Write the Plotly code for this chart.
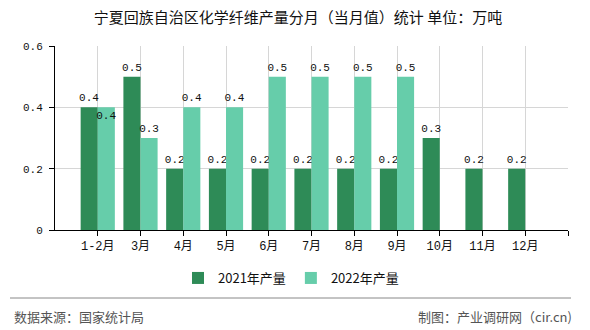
import plotly.graph_objects as go

categories = ["1-2月", "3月", "4月", "5月", "6月", "7月", "8月", "9月", "10月", "11月", "12月"]
values_2021 = [0.4, 0.5, 0.2, 0.2, 0.2, 0.2, 0.2, 0.2, 0.3, 0.2, 0.2]
values_2022 = [0.4, 0.3, 0.4, 0.4, 0.5, 0.5, 0.5, 0.5, None, None, None]
series_names = ["2021年产量", "2022年产量"]
y_ticks = [0, 0.2, 0.4, 0.6]
y_tick_labels = ["0", "0.2", "0.4", "0.6"]

W, H = 590, 330
L, R, T, B = 55, 22, 46, 100
PW = W - L - R
PH = H - T - B

def px_x(px):
    return (px - L) / PW

def px_y(py):
    return (H - B - py) / PH

num_font = "Liberation Mono, Noto Sans CJK SC"
cjk_font = "Noto Sans CJK SC, sans-serif"

xs = list(range(len(categories)))

def fmt(v):
    return "" if v is None else f"{v:g}"

# one label sits inside its bar to avoid overlap, as in the reference
pos_2022 = ["inside" if i == 0 else "outside" for i in xs]

lab_font = dict(family=num_font, size=11, color="#111")

fig = go.Figure()
fig.add_trace(go.Bar(
    x=xs, y=values_2021, name=series_names[0],
    marker_color="#2E8B57", marker_line_width=0,
    text=[fmt(v) for v in values_2021], textposition="outside",
    textangle=0, constraintext="none",
    textfont=lab_font, outsidetextfont=lab_font,
    cliponaxis=False,
))
fig.add_trace(go.Bar(
    x=xs, y=values_2022, name=series_names[1],
    marker_color="#66CDAA", marker_line_width=0,
    text=[fmt(v) for v in values_2022], textposition=pos_2022,
    insidetextanchor="end", constraintext="none", textangle=0,
    textfont=lab_font, insidetextfont=lab_font, outsidetextfont=lab_font,
    cliponaxis=False,
))

fig.update_layout(
    width=W, height=H,
    margin=dict(l=L, r=R, t=T, b=B, pad=0),
    paper_bgcolor="white", plot_bgcolor="white",
    barmode="group", bargap=0.2, bargroupgap=0,
    uniformtext=dict(mode=False),
    title=dict(text="宁夏回族自治区化学纤维产量分月（当月值）统计 单位：万吨",
               x=298 / W, xanchor="center", y=1 - 18 / H, yanchor="middle",
               font=dict(family=cjk_font, size=15, color="#111")),
    showlegend=True,
    legend=dict(orientation="h", x=px_x(291), xanchor="center",
                y=px_y(278), yanchor="middle",
                font=dict(family=cjk_font, size=13, color="#111"),
                itemclick=False, traceorder="normal"),
    xaxis=dict(
        range=[-1, len(categories)],
        tickmode="array", tickvals=list(range(len(categories) + 1)),
        ticktext=categories + [""],
        showgrid=True, gridcolor="#d6d6d6", gridwidth=1,
        showline=True, linecolor="#000", linewidth=1,
        ticks="outside", ticklen=5, tickcolor="#000",
        tickfont=dict(family=num_font, size=12, color="#111"),
        zeroline=False, fixedrange=True,
    ),
    yaxis=dict(
        range=[0, 0.6],
        tickmode="array", tickvals=y_ticks, ticktext=y_tick_labels,
        showgrid=True, gridcolor="#d6d6d6", gridwidth=1,
        showline=True, linecolor="#000", linewidth=1,
        ticks="outside", ticklen=5, tickcolor="#000",
        ticklabelstandoff=4,
        tickfont=dict(family=num_font, size=11, color="#111"),
        zeroline=False, fixedrange=True,
    ),
    shapes=[dict(type="line", xref="paper", yref="paper",
                 x0=px_x(10), x1=px_x(571), y0=px_y(298), y1=px_y(298),
                 line=dict(color="#888", width=1))],
    annotations=[
        dict(text="数据来源：国家统计局", xref="paper", yref="paper",
             x=px_x(12), xanchor="left", y=px_y(316), yanchor="middle",
             showarrow=False, font=dict(family=cjk_font, size=13, color="#555")),
        dict(text="制图：产业调研网（cir.cn)", xref="paper", yref="paper",
             x=px_x(574), xanchor="right", y=px_y(316), yanchor="middle",
             showarrow=False, font=dict(family=cjk_font, size=13, color="#555")),
    ],
)

fig.write_html("out.html")
